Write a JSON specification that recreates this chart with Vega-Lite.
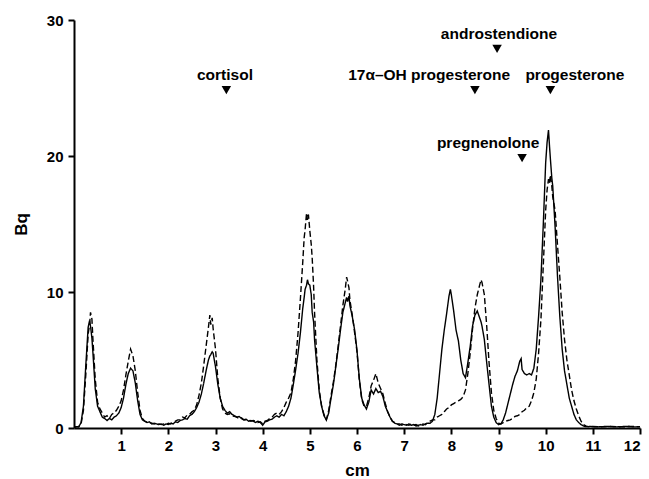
{
  "$schema": "https://vega.github.io/schema/vega-lite/v6.json",
  "width": 566,
  "height": 408,
  "autosize": "none",
  "padding": {"left": 74, "top": 20, "right": 9, "bottom": 51},
  "background": "white",
  "config": {
    "view": {"stroke": null},
    "font": "Liberation Sans",
    "axis": {
      "domainColor": "black", "domainWidth": 2, "tickColor": "black", "tickWidth": 2, "tickSize": 6,
      "labelFont": "Liberation Sans", "labelFontWeight": "bold", "labelFontSize": 15, "labelColor": "black",
      "titleFont": "Liberation Sans", "titleFontWeight": "bold", "titleFontSize": 17, "titleColor": "black",
      "grid": false
    }
  },
  "datasets": {
    "trace": [
      {"x":0.00,"s":0.05,"d":0.05},{"x":0.05,"s":0.1,"d":0.08},{"x":0.10,"s":0.08,"d":0.1},{"x":0.15,"s":0.4,"d":0.3},
      {"x":0.20,"s":1.6,"d":1.3},{"x":0.25,"s":4.6,"d":3.9},{"x":0.30,"s":7.4,"d":6.9},{"x":0.33,"s":7.9,"d":7.6},
      {"x":0.35,"s":7.5,"d":8.5},{"x":0.38,"s":6.6,"d":8.0},{"x":0.40,"s":5.6,"d":6.6},{"x":0.45,"s":2.9,"d":3.6},
      {"x":0.50,"s":1.6,"d":1.9},{"x":0.55,"s":1.2,"d":1.4},{"x":0.60,"s":0.8,"d":1.1},{"x":0.65,"s":0.7,"d":0.8},
      {"x":0.70,"s":0.55,"d":0.9},{"x":0.75,"s":0.7,"d":0.7},{"x":0.80,"s":0.6,"d":1.0},{"x":0.85,"s":0.8,"d":1.1},
      {"x":0.90,"s":0.9,"d":1.3},{"x":0.95,"s":1.1,"d":1.6},{"x":1.00,"s":1.5,"d":2.0},{"x":1.05,"s":2.2,"d":2.8},
      {"x":1.10,"s":3.2,"d":3.9},{"x":1.15,"s":4.0,"d":4.9},{"x":1.20,"s":4.4,"d":5.8},{"x":1.25,"s":4.2,"d":5.3},
      {"x":1.30,"s":3.3,"d":4.2},{"x":1.35,"s":2.0,"d":2.6},{"x":1.40,"s":1.0,"d":1.3},{"x":1.45,"s":0.6,"d":0.7},
      {"x":1.50,"s":0.5,"d":0.5},{"x":1.55,"s":0.4,"d":0.45},{"x":1.60,"s":0.45,"d":0.4},{"x":1.65,"s":0.3,"d":0.35},
      {"x":1.70,"s":0.35,"d":0.3},{"x":1.75,"s":0.3,"d":0.35},{"x":1.80,"s":0.25,"d":0.3},{"x":1.85,"s":0.3,"d":0.25},
      {"x":1.90,"s":0.2,"d":0.3},{"x":1.95,"s":0.3,"d":0.25},{"x":2.00,"s":0.25,"d":0.35},{"x":2.05,"s":0.35,"d":0.3},
      {"x":2.10,"s":0.3,"d":0.45},{"x":2.15,"s":0.45,"d":0.5},{"x":2.20,"s":0.4,"d":0.6},{"x":2.25,"s":0.55,"d":0.6},
      {"x":2.30,"s":0.6,"d":0.8},{"x":2.35,"s":0.7,"d":0.75},{"x":2.40,"s":0.65,"d":0.95},{"x":2.45,"s":0.9,"d":1.0},
      {"x":2.50,"s":1.0,"d":1.2},{"x":2.55,"s":1.2,"d":1.3},{"x":2.60,"s":1.5,"d":1.7},{"x":2.65,"s":1.9,"d":2.4},
      {"x":2.70,"s":2.5,"d":3.3},{"x":2.75,"s":3.3,"d":4.6},{"x":2.80,"s":4.2,"d":6.0},{"x":2.85,"s":5.0,"d":7.4},
      {"x":2.88,"s":5.3,"d":8.3},{"x":2.90,"s":5.4,"d":7.6},{"x":2.93,"s":5.6,"d":8.1},{"x":2.95,"s":5.5,"d":7.3},
      {"x":3.00,"s":4.5,"d":5.8},{"x":3.05,"s":3.2,"d":3.6},{"x":3.10,"s":2.2,"d":2.2},{"x":3.15,"s":1.6,"d":1.4},
      {"x":3.20,"s":1.3,"d":1.1},{"x":3.25,"s":1.1,"d":1.0},{"x":3.30,"s":1.2,"d":1.05},{"x":3.35,"s":1.0,"d":0.9},
      {"x":3.40,"s":0.9,"d":0.85},{"x":3.45,"s":0.8,"d":0.8},{"x":3.50,"s":0.85,"d":0.7},{"x":3.55,"s":0.7,"d":0.75},
      {"x":3.60,"s":0.6,"d":0.6},{"x":3.65,"s":0.65,"d":0.6},{"x":3.70,"s":0.5,"d":0.6},{"x":3.75,"s":0.55,"d":0.5},
      {"x":3.80,"s":0.5,"d":0.55},{"x":3.85,"s":0.4,"d":0.5},{"x":3.90,"s":0.5,"d":0.4},{"x":3.95,"s":0.4,"d":0.45},
      {"x":4.00,"s":0.2,"d":0.3},{"x":4.05,"s":0.45,"d":0.5},{"x":4.10,"s":0.5,"d":0.55},{"x":4.15,"s":0.6,"d":0.7},
      {"x":4.20,"s":0.65,"d":0.8},{"x":4.25,"s":0.8,"d":1.0},{"x":4.30,"s":0.9,"d":1.1},{"x":4.35,"s":0.8,"d":1.0},
      {"x":4.40,"s":1.0,"d":1.2},{"x":4.45,"s":0.9,"d":1.5},{"x":4.50,"s":1.2,"d":1.9},{"x":4.55,"s":1.6,"d":2.2},
      {"x":4.60,"s":2.2,"d":2.6},{"x":4.65,"s":3.2,"d":3.6},{"x":4.70,"s":4.3,"d":5.0},{"x":4.75,"s":5.5,"d":7.0},
      {"x":4.80,"s":7.0,"d":9.5},{"x":4.85,"s":8.8,"d":12.2},{"x":4.88,"s":9.6,"d":14.0},{"x":4.90,"s":10.2,"d":14.6},
      {"x":4.93,"s":10.5,"d":15.8},{"x":4.95,"s":10.9,"d":15.3},{"x":4.97,"s":10.6,"d":15.7},{"x":5.00,"s":10.5,"d":14.5},
      {"x":5.03,"s":9.8,"d":13.5},{"x":5.05,"s":8.5,"d":12.5},{"x":5.08,"s":7.8,"d":10.4},{"x":5.10,"s":6.5,"d":8.5},
      {"x":5.15,"s":4.5,"d":5.0},{"x":5.20,"s":2.6,"d":2.8},{"x":5.25,"s":1.6,"d":1.6},{"x":5.30,"s":0.9,"d":1.0},
      {"x":5.35,"s":0.6,"d":0.6},{"x":5.40,"s":1.1,"d":1.3},{"x":5.45,"s":2.2,"d":2.4},{"x":5.50,"s":3.2,"d":3.4},
      {"x":5.55,"s":4.5,"d":4.6},{"x":5.60,"s":5.8,"d":6.0},{"x":5.65,"s":7.2,"d":7.5},{"x":5.70,"s":8.5,"d":9.0},
      {"x":5.75,"s":9.2,"d":10.2},{"x":5.78,"s":9.6,"d":11.1},{"x":5.80,"s":9.3,"d":10.8},{"x":5.83,"s":9.7,"d":10.3},
      {"x":5.85,"s":9.0,"d":9.4},{"x":5.90,"s":8.2,"d":8.3},{"x":5.95,"s":7.2,"d":7.0},{"x":6.00,"s":5.7,"d":5.6},
      {"x":6.05,"s":3.6,"d":3.5},{"x":6.10,"s":2.2,"d":2.1},{"x":6.15,"s":1.7,"d":1.6},{"x":6.20,"s":1.4,"d":1.6},
      {"x":6.25,"s":1.9,"d":2.2},{"x":6.30,"s":2.8,"d":3.1},{"x":6.35,"s":2.5,"d":3.5},{"x":6.40,"s":2.9,"d":4.0},
      {"x":6.45,"s":2.6,"d":3.3},{"x":6.50,"s":2.7,"d":2.9},{"x":6.55,"s":2.3,"d":2.5},{"x":6.60,"s":1.6,"d":1.8},
      {"x":6.65,"s":1.2,"d":1.2},{"x":6.70,"s":0.8,"d":0.8},{"x":6.75,"s":0.5,"d":0.5},{"x":6.80,"s":0.35,"d":0.4},
      {"x":6.85,"s":0.3,"d":0.3},{"x":6.90,"s":0.2,"d":0.3},{"x":6.95,"s":0.3,"d":0.2},{"x":7.00,"s":0.25,"d":0.3},
      {"x":7.05,"s":0.2,"d":0.25},{"x":7.10,"s":0.3,"d":0.2},{"x":7.15,"s":0.2,"d":0.3},{"x":7.20,"s":0.25,"d":0.2},
      {"x":7.25,"s":0.15,"d":0.25},{"x":7.30,"s":0.2,"d":0.15},{"x":7.35,"s":0.25,"d":0.2},{"x":7.40,"s":0.2,"d":0.3},
      {"x":7.45,"s":0.3,"d":0.25},{"x":7.50,"s":0.35,"d":0.4},{"x":7.55,"s":0.35,"d":0.5},{"x":7.60,"s":0.5,"d":0.6},
      {"x":7.65,"s":1.0,"d":0.6},{"x":7.70,"s":2.2,"d":0.8},{"x":7.75,"s":4.0,"d":0.9},{"x":7.80,"s":5.8,"d":1.0},
      {"x":7.85,"s":7.2,"d":1.2},{"x":7.90,"s":8.4,"d":1.4},{"x":7.95,"s":9.7,"d":1.5},{"x":7.98,"s":10.2,"d":1.6},
      {"x":8.00,"s":9.8,"d":1.7},{"x":8.05,"s":8.6,"d":1.8},{"x":8.10,"s":7.2,"d":1.9},{"x":8.15,"s":6.4,"d":2.0},
      {"x":8.20,"s":5.0,"d":2.1},{"x":8.25,"s":4.0,"d":2.3},{"x":8.30,"s":3.7,"d":2.8},{"x":8.35,"s":4.8,"d":4.0},
      {"x":8.40,"s":6.0,"d":5.5},{"x":8.45,"s":7.5,"d":7.3},{"x":8.50,"s":8.3,"d":8.8},{"x":8.55,"s":8.6,"d":9.8},
      {"x":8.60,"s":8.1,"d":10.5},{"x":8.63,"s":7.8,"d":10.9},{"x":8.65,"s":7.5,"d":10.7},{"x":8.70,"s":6.5,"d":9.8},
      {"x":8.75,"s":4.8,"d":7.5},{"x":8.80,"s":3.2,"d":4.8},{"x":8.85,"s":1.6,"d":2.6},{"x":8.90,"s":0.8,"d":1.3},
      {"x":8.95,"s":0.4,"d":0.7},{"x":9.00,"s":0.25,"d":0.35},{"x":9.05,"s":0.3,"d":0.3},{"x":9.10,"s":0.6,"d":0.4},
      {"x":9.15,"s":1.1,"d":0.5},{"x":9.20,"s":1.8,"d":0.55},{"x":9.25,"s":2.5,"d":0.6},{"x":9.30,"s":3.2,"d":0.7},
      {"x":9.35,"s":3.8,"d":0.85},{"x":9.40,"s":4.2,"d":0.9},{"x":9.45,"s":4.9,"d":1.0},{"x":9.48,"s":5.1,"d":1.1},
      {"x":9.50,"s":4.3,"d":1.2},{"x":9.55,"s":4.0,"d":1.3},{"x":9.60,"s":3.9,"d":1.5},{"x":9.65,"s":4.0,"d":1.6},
      {"x":9.70,"s":3.9,"d":2.0},{"x":9.75,"s":4.4,"d":2.6},{"x":9.80,"s":5.8,"d":3.6},{"x":9.85,"s":8.2,"d":5.5},
      {"x":9.90,"s":11.0,"d":8.0},{"x":9.95,"s":15.0,"d":12.0},{"x":10.00,"s":19.5,"d":16.0},{"x":10.03,"s":21.0,"d":17.5},
      {"x":10.06,"s":21.9,"d":18.3},{"x":10.08,"s":20.8,"d":18.0},{"x":10.10,"s":19.8,"d":18.6},{"x":10.13,"s":18.4,"d":17.8},
      {"x":10.15,"s":17.8,"d":17.0},{"x":10.20,"s":14.8,"d":16.0},{"x":10.25,"s":11.2,"d":13.5},{"x":10.30,"s":8.2,"d":11.1},
      {"x":10.35,"s":5.8,"d":8.5},{"x":10.40,"s":4.2,"d":6.5},{"x":10.45,"s":3.2,"d":5.0},{"x":10.50,"s":2.2,"d":3.9},
      {"x":10.55,"s":1.6,"d":2.8},{"x":10.60,"s":1.0,"d":2.0},{"x":10.65,"s":0.6,"d":1.4},{"x":10.70,"s":0.4,"d":0.9},
      {"x":10.75,"s":0.25,"d":0.5},{"x":10.80,"s":0.15,"d":0.25},{"x":10.85,"s":0.1,"d":0.15},{"x":10.90,"s":0.1,"d":0.1},
      {"x":10.95,"s":0.12,"d":0.1},{"x":11.00,"s":0.1,"d":0.12},{"x":11.10,"s":0.08,"d":0.1},{"x":11.20,"s":0.1,"d":0.08},
      {"x":11.30,"s":0.12,"d":0.1},{"x":11.40,"s":0.1,"d":0.12},{"x":11.50,"s":0.08,"d":0.1},{"x":11.60,"s":0.1,"d":0.08},
      {"x":11.70,"s":0.12,"d":0.1},{"x":11.80,"s":0.1,"d":0.12},{"x":11.90,"s":0.08,"d":0.1},{"x":12.00,"s":0.1,"d":0.1}
    ],
    "ann": [
      {"label":"cortisol","x":3.23,"y":24.85,"tx":3.2,"ty":25.6},
      {"label":"17α–OH progesterone","x":8.5,"y":24.85,"tx":7.53,"ty":25.6},
      {"label":"progesterone","x":10.1,"y":24.85,"tx":10.62,"ty":25.6},
      {"label":"androstendione","x":8.97,"y":27.87,"tx":9.01,"ty":28.6},
      {"label":"pregnenolone","x":9.5,"y":19.85,"tx":8.78,"ty":20.6}
    ]
  },
  "layer": [
    {
      "data": {"name": "trace"},
      "transform": [{"fold": ["s", "d"], "as": ["series", "v"]}],
      "mark": {"type": "line", "color": "black", "strokeWidth": 1.4, "clip": true},
      "encoding": {
        "x": {"field": "x", "type": "quantitative", "scale": {"domain": [0, 12], "nice": false},
              "axis": {"values": [1,2,3,4,5,6,7,8,9,10,11,12], "title": "cm", "titlePadding": 9, "labelPadding": 4}},
        "y": {"field": "v", "type": "quantitative", "scale": {"domain": [0, 30], "nice": false},
              "axis": {"values": [0, 10, 20, 30], "title": "Bq", "titlePadding": 16, "labelPadding": 5}},
        "detail": {"field": "series"},
        "strokeDash": {"field": "series", "type": "nominal", "scale": {"domain": ["s", "d"], "range": [[1, 0], [6, 3]]}, "legend": null}
      }
    },
    {
      "data": {"name": "ann"},
      "mark": {"type": "point", "shape": "triangle-down", "filled": true, "color": "black", "opacity": 1, "size": 90},
      "encoding": {
        "x": {"field": "x", "type": "quantitative"},
        "y": {"field": "y", "type": "quantitative"}
      }
    },
    {
      "data": {"name": "ann"},
      "mark": {"type": "text", "font": "Liberation Sans", "fontWeight": "bold", "fontSize": 15.5, "color": "black", "align": "center", "baseline": "alphabetic"},
      "encoding": {
        "x": {"field": "tx", "type": "quantitative"},
        "y": {"field": "ty", "type": "quantitative"},
        "text": {"field": "label"}
      }
    }
  ]
}
